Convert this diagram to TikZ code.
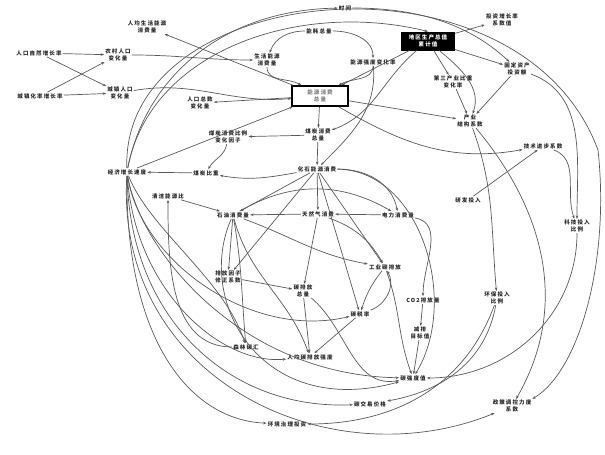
\documentclass[tikz,border=0pt]{standalone}
\usepackage{fontspec}
\newfontfamily\cjk[LetterSpace=20]{Noto Sans CJK SC}
\usetikzlibrary{arrows.meta}

\begin{document}
\begin{tikzpicture}[x=1pt,y=-1pt,
    var/.style ={font=\cjk\bfseries\fontsize{5.5}{6.5}\selectfont, inner sep=1pt, align=center, text=black!85},
    stock/.style ={var, draw=black, line width=1.6pt, fill=white, text=black!50, minimum width=56pt, minimum height=20pt},
    stockdark/.style ={var, draw=black, line width=1pt, fill=black, text=white, minimum width=53pt, minimum height=18pt},
    link/.style ={draw=black!65, line width=0.7pt, -{Stealth[length=3.5pt,width=2.6pt]}}]
   \useasboundingbox (0,0) rectangle (605,455);

   % variables
   \node[var] (popg)   at (39,53)   {人口自然增长率};
   \node[var] (urbg)   at (40,96)   {城镇化率增长率};
   \node[var] (rural)  at (118,55)  {农村人口\\变化量};
   \node[var] (urban)  at (120,93)  {城镇人口\\变化量};
   \node[var] (lifepc) at (147,27)  {人均生活能源\\消费量};
   \node[var] (life)   at (267,60)  {生活能源\\消费量};
   \node[var] (total)  at (319,31)  {能耗总量};
   \node[var] (intens) at (373,62)  {能源强度变化率};
   \node[var] (time)   at (345,8)   {时间};
   \node[var] (invg)   at (502,20)  {投资增长率\\系数值};
   \node[var] (fixinv) at (517,69)  {固定资产\\投资额};
   \node[var] (tert)   at (453,82)  {第三产业比重\\变化率};
   \node[var] (ind)    at (470,121) {产业\\结构系数};
   \node[var] (tech)   at (543,146) {技术进步系数};
   \node[var] (rd)     at (468,200) {研发投入};
   \node[var] (sci)    at (577,226) {科技投入\\比例};
   \node[var] (popt)   at (200,103) {人口总数\\变化量};
   \node[var] (coalf)  at (228,137) {煤炭消费比例\\变化因子};
   \node[var] (coal)   at (318,135) {煤炭消费\\总量};
   \node[var] (econ)   at (127,172) {经济增长速度};
   \node[var] (coalr)  at (206,173) {煤炭比重};
   \node[var] (fossil) at (317,169) {化石能源消费};
   \node[var] (clean)  at (168,196) {清洁能源比};
   \node[var] (oil)    at (233,215) {石油消费量};
   \node[var] (gas)    at (318,214) {天然气消费};
   \node[var] (elec)   at (398,215) {电力消费量};
   \node[var] (factor) at (228,277) {排放因子\\修正系数};
   \node[var] (carbon) at (303,291) {碳排放\\总量};
   \node[var] (sink)   at (246,347) {森林碳汇};
   \node[var] (percap) at (310,357) {人均碳排放强度};
   \node[var] (indc)   at (385,267) {工业碳排放};
   \node[var] (tax)    at (360,314) {碳税率};
   \node[var] (co2)    at (423,300) {CO2排放量};
   \node[var] (target) at (420,333) {减排\\目标值};
   \node[var] (cint)   at (413,378) {碳强度值};
   \node[var] (price)  at (370,404) {碳交易价格};
   \node[var] (govinv) at (287,424) {环境治理投资};
   \node[var] (envr)   at (497,298) {环保投入\\比例};
   \node[var] (policy) at (512,406) {政策调控力度\\系数};

   % levels
   \node[stock]     (energy) at (320,96) {能源消费\\总量};
   \node[stockdark] (gdp)    at (428,41) {地区生产总值\\累计值};

   % top left
   \draw[link] (popg) -- (rural);
   \draw[link] (popg) -- (urban);
   \draw[link] (urbg) -- (urban);
   \draw[link] (urbg) -- (rural);
   \draw[link] (rural) to[out=0,in=180] (life);
   \draw[link] (urban) to[out=10,in=185] (energy);
   \draw[link] (energy) -- (lifepc);
   \draw[link] (total) to[out=180,in=70] (life);
   \draw[link] (life) to[out=-90,in=150] (energy);
   \draw[link] (total) to[out=0,in=90] (intens);
   \draw[link] (intens) to[out=-90,in=30] (energy);
   \draw[link] (energy) -- (popt);
   \draw[link] (energy) -- (coal);
   \draw[link] (coal) -- (coalf);
   \draw[link] (coal) -- (fossil);
   \draw[link] (coalf) to[out=-100,in=60] (coalr);
   \draw[link] (fossil) to[out=190,in=-10] (coalr);
   \draw[link] (coalr) -- (econ);
   \draw[link] (intens) to[out=-85,in=45] (fossil);
   \draw[link] (econ) -- (energy);

   % right side
   \draw[link] (gdp) -- (invg);
   \draw[link] (gdp) -- (fixinv);
   \draw[link] (gdp) -- (tert);
   \draw[link] (gdp) -- (energy);
   \draw[link] (gdp) to[out=220,in=20] (coal);
   \draw[link] (gdp) to[out=-40,in=70] (ind);
   \draw[link] (tert) -- (ind);
   \draw[link] (fixinv) -- (ind);
   \draw[link] (energy) -- (ind);
   \draw[link] (energy) to[out=-30,in=190] (tech);
   \draw[link] (rd) -- (tech);
   \draw[link] (fixinv) to[out=-20,in=90] (sci);
   \draw[link] (tech) to[out=-20,in=110] (sci);
   \draw[link] (ind) to[out=-70,in=95] (envr);
   \draw[link] (ind) to[out=-50,in=60] (policy);
   \draw[link] (sci) to[out=-90,in=0] (cint);
   \draw[link] (envr) to[out=-100,in=10] (price);
   \draw[link] (envr) to[out=-110,in=0] (govinv);

   % outer arcs
   \draw[link] (econ) .. controls (145,80) and (220,10) .. (time);
   \draw[link] (time) .. controls (420,8) and (470,25) .. (fixinv);
   \draw[link] (econ) .. controls (150,50) and (300,0) .. (gdp.north);
   \draw[link] (econ) .. controls (120,-20) and (520,-60) .. (598,150)
                      .. controls (610,260) and (580,370) .. (policy.north east);
   \draw[link] (econ) .. controls (150,230) and (225,280) .. (sink);
   \draw[link] (econ) .. controls (140,260) and (250,340) .. (tax);
   \draw[link] (econ) .. controls (140,250) and (240,375) .. (cint);
   \draw[link] (econ) .. controls (135,290) and (220,365) .. (percap);
   \draw[link] (econ) .. controls (130,320) and (230,410) .. (price);
   \draw[link] (econ) .. controls (125,340) and (190,420) .. (govinv);
   \draw[link] (econ) .. controls (115,380) and (330,480) .. (policy);

   % centre
   \draw[link] (clean) -- (oil);
   \draw[link] (fossil) -- (oil);
   \draw[link] (fossil) -- (gas);
   \draw[link] (fossil) to[out=0,in=100] (elec);
   \draw[link] (gas) -- (oil);
   \draw[link] (elec) -- (gas);
   \draw[link] (oil) to[out=30,in=150] (elec);
   \draw[link] (oil) -- (factor);
   \draw[link] (oil) to[out=-80,in=95] (sink);
   \draw[link] (oil) to[out=-75,in=110] (percap);
   \draw[link] (oil) to[out=-20,in=170] (indc);
   \draw[link] (oil) .. controls (195,300) and (260,420) .. (cint);
   \draw[link] (fossil) -- (factor);
   \draw[link] (fossil) -- (indc);
   \draw[link] (fossil) -- (tax);
   \draw[link] (fossil) .. controls (420,170) and (460,300) .. (cint);
   \draw[link] (gas) -- (carbon);
   \draw[link] (gas) to[out=-20,in=120] (indc);
   \draw[link] (elec) to[out=-10,in=90] (co2);
   \draw[link] (factor) -- (carbon);
   \draw[link] (carbon) -- (percap);
   \draw[link] (carbon) to[out=-40,in=190] (cint);
   \draw[link] (indc) to[bend right=10] (tax);
   \draw[link] (tax) to[out=20,in=-60] (indc);
   \draw[link] (tax) -- (percap);
   \draw[link] (indc) to[out=-70,in=110] (cint);
   \draw[link] (co2) -- (target);
   \draw[link] (target) -- (cint);
   \draw[link] (sink) to[out=180,in=-90] (clean);
 \end{tikzpicture}
\end{document}
